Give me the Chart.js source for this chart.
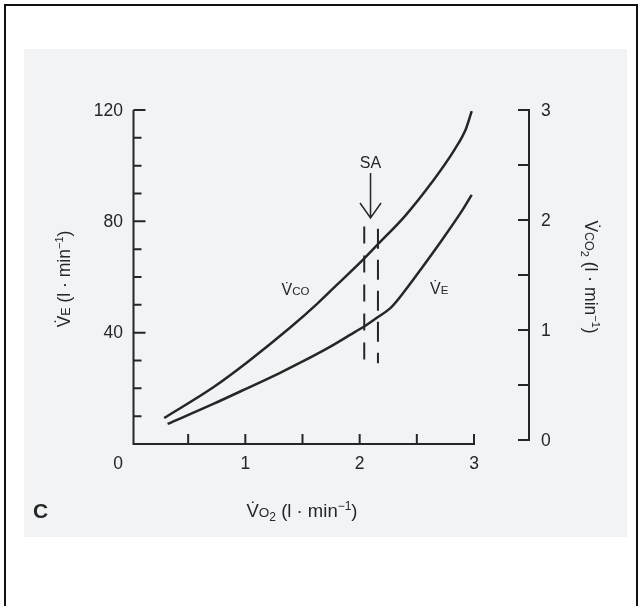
<!DOCTYPE html>
<html><head><meta charset="utf-8">
<script src="https://cdn.jsdelivr.net/npm/chart.js@4.4.0/dist/chart.umd.min.js"></script>
<style>html,body{margin:0;padding:0;background:#fff;}canvas{display:block;}</style>
</head><body>
<canvas id="c" width="640" height="606"></canvas>
<script>
// ---- data ----
const vo2ForVco2 = [0.29, 0.72, 1.02, 1.39, 1.63, 1.80, 2.03, 2.16, 2.40, 2.63, 2.83, 2.93, 2.98];
const vco2Values = [0.20, 0.48, 0.71, 1.02, 1.24, 1.41, 1.64, 1.78, 2.04, 2.34, 2.64, 2.83, 2.99];
const vo2ForVe   = [0.32, 0.72, 1.02, 1.30, 1.48, 1.74, 1.96, 2.05, 2.16, 2.28, 2.40, 2.55, 2.72, 2.90, 2.98];
const veValues   = [7.2, 14.4, 20.1, 25.5, 29.2, 34.9, 40.3, 42.5, 45.6, 49.3, 55.3, 63.6, 73.3, 84.1, 89.5];
const saLineX      = [2.04, 2.16];
const saLineTop    = [78.1, 77.3];
const saLineBottom = [29.0, 29.0];
const saArrowX = 2.095, saArrowTop = 97.4, saArrowTip = 81.2;
const xTicks = [0.5, 1, 1.5, 2, 2.5, 3];
const xTickLabels = [0, 1, 2, 3];
const veMajorTicks = [40, 80, 120];
const veMinorTicks = [10, 20, 30, 50, 60, 70, 90, 100, 110];
const vco2Ticks = [0, 0.5, 1, 1.5, 2, 2.5, 3];
const vco2TickLabels = [0, 1, 2, 3];

const INK = '#262626';
const FONT = '"Liberation Sans", Arial, Helvetica, sans-serif';
const f = (s, b) => (b ? 'bold ' : '') + s + 'px ' + FONT;

function rich(ctx, segs, x, y, rot, align) {
  ctx.save();
  ctx.translate(x, y);
  ctx.rotate(rot);
  ctx.fillStyle = INK;
  ctx.textBaseline = 'alphabetic';
  ctx.textAlign = 'left';
  let w = 0;
  segs.forEach(s => { ctx.font = f(s.size, s.bold); s.w = ctx.measureText(s.t).width; w += s.w; });
  let cx = align === 'center' ? -w / 2 : 0;
  segs.forEach(s => { ctx.font = f(s.size, s.bold); ctx.fillText(s.t, cx, s.dy || 0); cx += s.w; });
  ctx.restore();
}

const bgPlugin = {
  id: 'bg',
  beforeDraw(chart) {
    const ctx = chart.ctx;
    ctx.save();
    ctx.fillStyle = '#ffffff';
    ctx.fillRect(0, 0, 640, 606);
    ctx.fillStyle = '#f1f3f5';
    ctx.fillRect(24, 49, 603, 488);
    ctx.fillStyle = '#111';
    ctx.fillRect(4, 4, 634, 2);
    ctx.fillRect(4, 4, 2, 602);
    ctx.fillRect(636, 4, 2, 602);
    ctx.restore();
  }
};

const axesPlugin = {
  id: 'axes',
  afterDatasetsDraw(chart) {
    const ctx = chart.ctx;
    const sx = chart.scales.x, sy = chart.scales.y, sy2 = chart.scales.y2;
    const xL = 133.5, yB = sy.getPixelForValue(0), xR = 529;
    ctx.save();
    ctx.strokeStyle = INK;
    ctx.lineWidth = 2;
    ctx.beginPath();
    // left axis
    ctx.moveTo(xL, sy.getPixelForValue(120)); ctx.lineTo(xL, yB + 1);
    veMajorTicks.forEach(v => { const p = sy.getPixelForValue(v); ctx.moveTo(xL, p); ctx.lineTo(xL + 12, p); });
    veMinorTicks.forEach(v => { const p = sy.getPixelForValue(v); ctx.moveTo(xL, p); ctx.lineTo(xL + 8, p); });
    // bottom axis
    ctx.moveTo(xL - 1, yB); ctx.lineTo(sx.getPixelForValue(3) + 1, yB);
    xTicks.forEach(v => { const p = sx.getPixelForValue(v); ctx.moveTo(p, yB); ctx.lineTo(p, yB - 10); });
    // right axis
    ctx.moveTo(xR, sy2.getPixelForValue(3) - 1); ctx.lineTo(xR, sy2.getPixelForValue(0) + 1);
    vco2Ticks.forEach(v => { const p = sy2.getPixelForValue(v); ctx.moveTo(xR - 11, p); ctx.lineTo(xR, p); });
    ctx.stroke();

    // tick labels
    ctx.fillStyle = INK;
    ctx.font = f(17.5);
    ctx.textBaseline = 'middle';
    ctx.textAlign = 'right';
    veMajorTicks.forEach(v => ctx.fillText(String(v), 123, sy.getPixelForValue(v) + 1));
    ctx.textAlign = 'left';
    vco2TickLabels.forEach(v => ctx.fillText(String(v), 541, sy2.getPixelForValue(v) + 1));
    ctx.textAlign = 'center';
    xTickLabels.forEach(v => ctx.fillText(String(v), sx.getPixelForValue(v) + (v === 0 ? -13 : 0), 464));

    // SA arrow
    const ax = sx.getPixelForValue(saArrowX);
    const aTop = sy.getPixelForValue(saArrowTop), aTip = sy.getPixelForValue(saArrowTip);
    ctx.lineWidth = 1.5;
    ctx.beginPath();
    ctx.moveTo(ax, aTop); ctx.lineTo(ax, aTip);
    ctx.moveTo(ax - 10.5, aTip - 15); ctx.lineTo(ax, aTip); ctx.lineTo(ax + 10.5, aTip - 15);
    ctx.stroke();
    ctx.font = f(16);
    ctx.textBaseline = 'alphabetic';
    ctx.fillText('SA', ax, aTop - 5);
    ctx.restore();

    // curve labels
    rich(ctx, [{t: 'V\u0307', size: 16}, {t: 'CO', size: 11.5}], 281.5, 295, 0);
    rich(ctx, [{t: 'V\u0307', size: 16}, {t: 'E', size: 11.5}], 430, 293.5, 0);

    // axis titles
    rich(ctx, [{t: 'V\u0307', size: 17.5}, {t: 'E', size: 12.5}, {t: ' (l · min', size: 17.5}, {t: '\u22121', size: 11, dy: -7}, {t: ')', size: 17.5}], 70, 279, -Math.PI / 2, 'center');
    rich(ctx, [{t: 'V\u0307', size: 17.5}, {t: 'CO', size: 12.5}, {t: '2', size: 11, dy: 4}, {t: ' (l · min', size: 17.5}, {t: '\u22121', size: 11, dy: -7}, {t: ')', size: 17.5}], 585, 277, Math.PI / 2, 'center');
    rich(ctx, [{t: 'V\u0307', size: 18.5}, {t: 'O', size: 13.5}, {t: '2', size: 12, dy: 4}, {t: ' (l · min', size: 18.5}, {t: '\u22121', size: 12, dy: -7}, {t: ')', size: 18.5}], 302, 517, 0, 'center');
    rich(ctx, [{t: 'C', size: 21, bold: true}], 33, 518, 0);
  }
};

const toPts = (xs, ys) => xs.map((x, i) => ({x: x, y: ys[i]}));
const lineStyle = {showLine: true, pointRadius: 0, borderColor: INK, backgroundColor: INK, fill: false, clip: false};

new Chart(document.getElementById('c'), {
  type: 'scatter',
  data: {
    datasets: [
      Object.assign({label: 'VCO2', data: toPts(vo2ForVco2, vco2Values), yAxisID: 'y2', borderWidth: 2.5, cubicInterpolationMode: 'monotone'}, lineStyle),
      Object.assign({label: 'VE', data: toPts(vo2ForVe, veValues), yAxisID: 'y', borderWidth: 2.5, cubicInterpolationMode: 'monotone'}, lineStyle),
      Object.assign({label: 'SA1', data: [{x: saLineX[0], y: saLineTop[0]}, {x: saLineX[0], y: saLineBottom[0]}], yAxisID: 'y', borderWidth: 2, borderDash: [17, 12]}, lineStyle),
      Object.assign({label: 'SA2', data: [{x: saLineX[1], y: saLineTop[1]}, {x: saLineX[1], y: saLineBottom[1]}], yAxisID: 'y', borderWidth: 2, borderDash: [20, 11]}, lineStyle)
    ]
  },
  options: {
    responsive: false,
    animation: false,
    devicePixelRatio: 1,
    layout: {padding: {left: 131, right: 166, top: 110, bottom: 162}},
    plugins: {legend: {display: false}, tooltip: {enabled: false}},
    scales: {
      x: {type: 'linear', min: 0, max: 3, display: false},
      y: {type: 'linear', min: 0, max: 120, display: false},
      y2: {type: 'linear', min: -0.036, max: 3.0, display: false, position: 'right'}
    }
  },
  plugins: [bgPlugin, axesPlugin]
});
</script>
</body></html>
